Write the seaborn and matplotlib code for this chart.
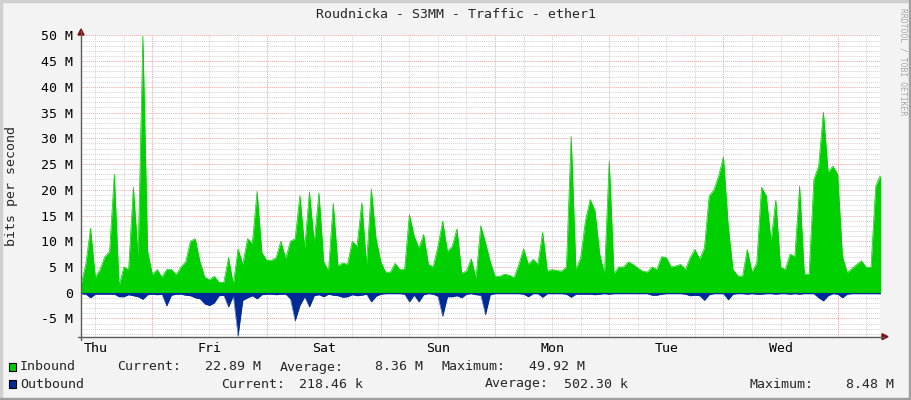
import matplotlib
matplotlib.use("Agg")
import matplotlib.pyplot as plt
import seaborn as sns
from matplotlib.lines import Line2D
from matplotlib.patches import Polygon, Rectangle

# data (Mbit/s), hourly from Thu 09:00 (hour 9) to next Thu 09:00 (hour 177)
hours = list(range(9, 178))

inbound = [
    1.5, 5.5, 12.5, 3, 4.5, 7, 8, 23, 1.3, 5, 4.5, 20.5, 7, 49.9, 8, 3.5, 4.5,
    3, 4.5, 4.5, 3.5, 5, 6, 10, 10.5, 6, 3, 2.5, 3.2, 2, 2, 6.8, 1.6, 8.5,
    5.5, 10.5, 9.5, 19.7, 7.8, 6.3, 6.3, 6.8, 10, 6.6, 10, 10.5, 18.9, 8.7,
    19.6, 9.7, 19.4, 6, 4.2, 17.4, 5.2, 5.8, 5.5, 10, 9, 17.5, 5.5, 20.2,
    10.5, 6, 4, 4, 5.7, 4.5,
    4.5, 15.2, 11, 8.7, 11.3, 5.5, 5, 9, 13.9, 8, 9, 12.4, 3.8, 4.2, 6.6,
    2.8, 13, 9.7, 6, 3.2, 3.2, 3.6, 3.4, 2.9, 5.5, 8.5, 5.5, 6.5, 5.5, 11.7,
    4.2, 4.5, 4.3,
    4.2, 5, 30.4, 4.5, 6.8, 14, 18.1, 15.9, 7.5, 3.6, 25.6, 3.7, 5, 5, 6,
    5.5, 4.8, 4.2, 4, 5, 4.5, 7, 6.8, 5, 5.2, 5.5, 4.5, 6.8, 8.4, 6.5, 8.7,
    18.8, 20, 22.7,
    26.4, 13, 4.5, 3.3, 3.1, 8.4, 4, 5.8, 20.5, 18.8, 10, 18, 5, 4.5, 7.5,
    7, 20.7, 3.6, 3.6, 22, 24.6, 35.1, 23.4, 24.6, 23, 7.1, 3.9, 4.7, 5.5,
    6.2, 4.9, 4.9, 20.7, 22.89,
]

outbound = [
    -0.2, -0.3, -1.0, -0.3, -0.3, -0.3, -0.3, -0.3, -0.8, -0.8, -0.4, -0.6,
    -0.8, -1.3, -0.4, -0.3, -0.4, -0.3, -2.6, -0.5, -0.3, -0.3, -0.5, -0.6,
    -1.0, -1.2, -2.2, -2.5, -2.0, -0.6, -0.5, -2.8, -0.6, -8.48,
    -1.5, -1.0, -0.6, -1.2, -0.4, -0.3, -0.3, -0.4, -0.3, -0.3, -1.2, -5.5,
    -2.5, -0.8, -2.8, -0.6, -0.4, -0.8, -0.3, -0.5, -0.6, -0.9, -0.8, -0.4,
    -0.6, -0.5, -0.3, -1.8, -0.7, -0.3, -0.2, -0.2, -0.2, -0.2,
    -0.3, -1.8, -0.5, -1.8, -0.4, -0.2, -0.3, -0.7, -4.6, -0.8, -0.8, -0.6,
    -1.0, -0.3, -0.2, -0.4, -0.5, -4.3, -0.4, -0.2, -0.2, -0.2, -0.2, -0.2,
    -0.2, -0.3, -0.8, -0.2, -0.2, -0.9, -0.2, -0.2, -0.2,
    -0.2, -0.3, -0.9, -0.3, -0.3, -0.3, -0.3, -0.4, -0.3, -0.2, -0.3, -0.2,
    -0.2, -0.2, -0.2, -0.2, -0.2, -0.2, -0.2, -0.5, -0.5, -0.3, -0.2, -0.2,
    -0.2, -0.2, -0.3, -0.6, -0.5, -0.6, -1.5, -0.4, -0.2, -0.2,
    -0.2, -1.4, -0.3, -0.2, -0.2, -0.3, -0.2, -0.3, -0.3, -0.2, -0.2, -0.3,
    -0.2, -0.2, -0.3, -0.2, -0.3, -0.2, -0.2, -0.2, -1.0, -1.6, -0.6, -0.2,
    -0.3, -1.0, -0.3, -0.2, -0.2, -0.2, -0.2, -0.2, -0.2, -0.22,
]

day_labels = ["Thu", "Fri", "Sat", "Sun", "Mon", "Tue", "Wed"]
day_label_hours = [12, 36, 60, 84, 108, 132, 156]
major_y = [-5, 0, 5, 10, 15, 20, 25, 30, 35, 40, 45, 50]
y_labels = ["-5 M", "0", "5 M", "10 M", "15 M", "20 M", "25 M", "30 M",
            "35 M", "40 M", "45 M", "50 M"]

in_stats = ["22.89 M", "8.36 M", "49.92 M"]
out_stats = ["218.46 k", "502.30 k", "8.48 M"]

GREEN = "#00CF00"
BLUE = "#002A97"
BG = "#F3F3F3"
FONT = "DejaVu Sans Mono"

sns.set_theme(style="white")
plt.rcParams["font.family"] = [FONT, "DejaVu Sans"]

W, H = 911, 400
fig = plt.figure(figsize=(W / 100, H / 100), dpi=100, facecolor=BG)


def fx(x):
    return x / W


def fy(y):
    return 1 - y / H


# plot area in pixels
L, R, T, B = 81, 880, 35.4, 336.7
ax = fig.add_axes([fx(L), fy(B), fx(R) - fx(L), fy(T) - fy(B)])
ax.set_facecolor("white")
ax.set_xlim(9, 176.9)
ax.set_ylim(-8.55, 50)

# grid
minor_kw = dict(color="#D2D2D2", lw=0.7, ls=(0, (1, 1)), zorder=0)
major_kw = dict(color="#EFA8A8", lw=0.7, ls=(0, (1, 1)), zorder=0)
for h in range(12, 177, 6):
    if h % 24:
        ax.axvline(h, **minor_kw)
for v in range(-8, 51):
    if v % 5:
        ax.axhline(v, **minor_kw)
for h in range(24, 177, 24):
    ax.axvline(h, **major_kw)
for v in major_y:
    ax.axhline(v, **major_kw)

# areas
ax.fill_between(hours, 0, inbound, color=GREEN, lw=0, zorder=2)
sns.lineplot(x=hours, y=inbound, ax=ax, color=GREEN, lw=0.5, zorder=2,
             estimator=None)
ax.fill_between(hours, 0, outbound, color=BLUE, lw=0, zorder=3)
sns.lineplot(x=hours, y=outbound, ax=ax, color=BLUE, lw=0.3, zorder=3,
             estimator=None)
ax.axhline(0, color=BLUE, lw=0.8, zorder=4)

ax.set_yticks(major_y)
ax.set_yticklabels(y_labels)
ax.set_xticks(day_label_hours)
ax.set_xticklabels(day_labels)
ax.tick_params(axis="both", length=0, labelsize=9.5, colors="#000000")
ax.tick_params(axis="y", pad=6)
ax.tick_params(axis="x", pad=4)
ax.set_xlabel("")
ax.set_ylabel("")
for s in ax.spines.values():
    s.set_visible(False)

# axes lines and arrows
ax_col = "#5A5A5A"
arrow_col = "#7F1010"
fig.add_artist(Line2D([fx(L), fx(L)], [fy(B + 3), fy(30)], color=ax_col, lw=1))
fig.add_artist(Line2D([fx(L - 3), fx(884)], [fy(B), fy(B)], color=ax_col, lw=1))
fig.add_artist(Polygon([[fx(L - 3), fy(35)], [fx(L + 3), fy(35)], [fx(L), fy(29)]],
                       closed=True, color=arrow_col))
fig.add_artist(Polygon([[fx(882), fy(B - 3)], [fx(882), fy(B + 3)], [fx(888), fy(B)]],
                       closed=True, color=arrow_col))

# texts
fig.text(0.5, fy(14), "Roudnicka - S3MM - Traffic - ether1", ha="center",
         va="center", fontsize=9.5, family=FONT)
fig.text(fx(12), fy(186), "bits per second", rotation=90, ha="center",
         va="center", fontsize=9.5, family=FONT)
fig.text(fx(903), fy(8), "RRDTOOL / TOBI OETIKER", rotation=270, ha="center",
         va="top", fontsize=5.8, family=FONT, color="#A8A8A8")

# legend
leg_kw = dict(fontsize=9.5, family=FONT, va="center")
rows = [(367, GREEN, "Inbound", in_stats,
         [(117, "Current:"), (280, "Average:"), (441, "Maximum:")],
         [261, 423, 585]),
        (384, BLUE, "Outbound", out_stats,
         [(221, "Current:"), (485, "Average:"), (750, "Maximum:")],
         [363, 628, 894])]
for y, col, name, stats, heads, ends in rows:
    fig.add_artist(Rectangle((fx(9), fy(y + 4)), 7 / W, 8 / H, facecolor=col,
                             edgecolor="black", lw=0.8))
    fig.text(fx(20), fy(y), name, ha="left", **leg_kw)
    for (hx, head), val, ex in zip(heads, stats, ends):
        fig.text(fx(hx), fy(y), head, ha="left", **leg_kw)
        fig.text(fx(ex), fy(y), val, ha="right", **leg_kw)

# image frame (light top/left, dark bottom/right)
fig.add_artist(Rectangle((0, 1 - 2 / H), 1, 2 / H, color="#CFCFCF"))
fig.add_artist(Rectangle((0, 0), 2 / W, 1, color="#CFCFCF"))
fig.add_artist(Rectangle((0, 0), 1, 2 / H, color="#9E9E9E"))
fig.add_artist(Rectangle((1 - 2 / W, 0), 2 / W, 1, color="#9E9E9E"))

fig.savefig("out.png", dpi=100, facecolor=BG)
